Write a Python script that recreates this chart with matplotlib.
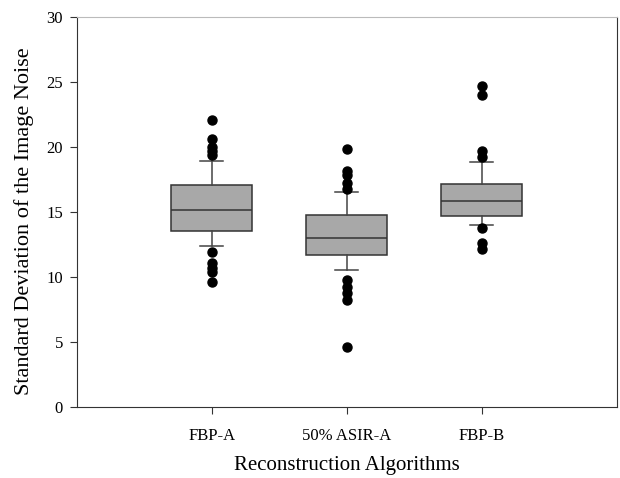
import matplotlib
matplotlib.use("Agg")
import matplotlib.pyplot as plt

plt.rc("font", family="Liberation Serif")

LABELS = ["FBP-A", "50% ASIR-A", "FBP-B"]
Q1 = [13.55, 11.67, 14.69]
MEDIANS = [15.15, 12.97, 15.85]
Q3 = [17.08, 14.77, 17.13]
WHISKER_LOW = [12.38, 10.54, 14.03]
WHISKER_HIGH = [18.90, 16.56, 18.87]
OUTLIERS = [
    [22.1, 20.6, 20.0, 19.7, 19.4, 11.95, 11.05, 10.7, 10.35, 9.65],
    [19.82, 18.18, 17.85, 17.2, 16.8, 9.77, 9.26, 8.74, 8.23, 4.59],
    [24.7, 24.0, 19.69, 19.26, 13.74, 12.58, 12.13],
]


def draw() -> None:
    fig = plt.figure(figsize=(6.2, 4.78), dpi=100)
    ax = fig.add_axes([0.124, 0.1485, 0.871, 0.816])

    stats = []
    for i in range(len(LABELS)):
        stats.append({
            "label": LABELS[i],
            "q1": Q1[i],
            "med": MEDIANS[i],
            "q3": Q3[i],
            "whislo": WHISKER_LOW[i],
            "whishi": WHISKER_HIGH[i],
            "fliers": OUTLIERS[i],
        })

    ax.bxp(
        stats,
        positions=[1, 2, 3],
        widths=0.6,
        patch_artist=True,
        boxprops=dict(facecolor="#a8a8a8", edgecolor="#333333", linewidth=1.1),
        medianprops=dict(color="#333333", linewidth=1.1),
        whiskerprops=dict(color="#444444", linewidth=1.1),
        capprops=dict(color="#444444", linewidth=1.1),
        capwidths=0.17,
        flierprops=dict(marker="o", markerfacecolor="black", markeredgecolor="black",
                        markersize=6.5),
    )

    ax.set_xlim(0, 4)
    ax.set_ylim(0, 30)
    ax.set_yticks([0, 5, 10, 15, 20, 25, 30])
    ax.set_xticks([1, 2, 3])
    ax.set_xticklabels(LABELS)
    ax.tick_params(labelsize=12, direction="out", length=5, color="#333333", pad=5)
    ax.tick_params(axis="x", pad=10)

    ax.set_xlabel("Reconstruction Algorithms", fontsize=15, labelpad=9)
    ax.set_ylabel("Standard Deviation of the Image Noise", fontsize=16)
    ax.yaxis.set_label_coords(-0.08, 0.477)

    for side in ["left", "bottom", "right"]:
        ax.spines[side].set_color("#333333")
    ax.spines["top"].set_color("#bbbbbb")

    plt.savefig("out.png", dpi=100)


def main() -> None:
    draw()


main()
